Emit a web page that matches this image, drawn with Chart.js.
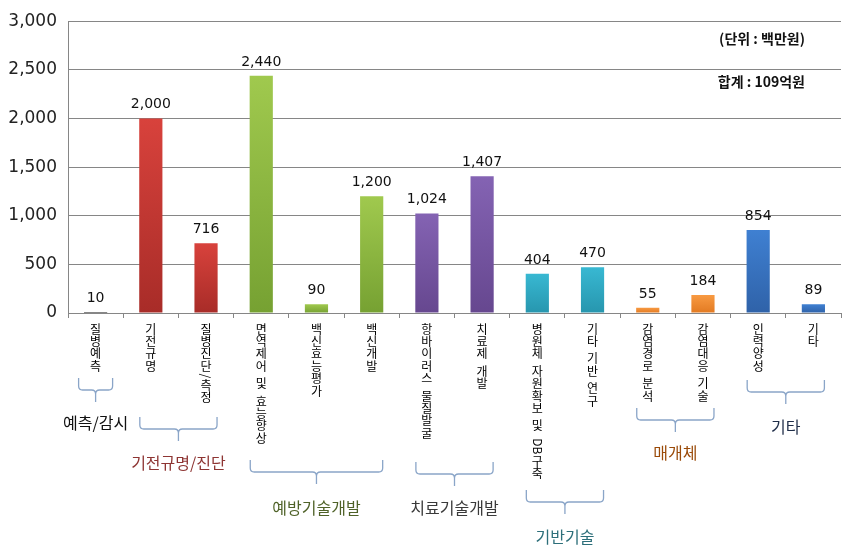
<!DOCTYPE html>
<html>
<head>
<meta charset="utf-8">
<script src="https://cdn.jsdelivr.net/npm/chart.js@4.4.1/dist/chart.umd.min.js"></script>
<style>
  html, body { margin: 0; padding: 0; background: #fff; }
  #wrap { width: 856px; height: 553px; position: relative; }
</style>
</head>
<body>
<div id="wrap"><canvas id="budgetChart"></canvas></div>
<script>
const categories = [
  "질병예측", "기전규명", "질병진단/측정", "면역제어 및 효능향상", "백신효능평가",
  "백신개발", "항바이러스 물질발굴", "치료제 개발", "병원체 자원확보 및 DB구축",
  "기타 기반 연구", "감염경로 분석", "감염대응 기술", "인력양성", "기타"
];
const values = [10, 2000, 716, 2440, 90, 1200, 1024, 1407, 404, 470, 55, 184, 854, 89];

const groupNames = ["예측/감시", "기전규명/진단", "예방기술개발", "치료기술개발", "기반기술", "매개체", "기타"];
const groupFirst = [0, 1, 3, 6, 8, 10, 12];
const groupLast = [0, 2, 5, 7, 9, 11, 13];

const yMax = 3000;
const yStep = 500;
const notes = ["(단위 : 백만원)", "합계 : 109억원"];

// styles per group
const barTop = ["#2a2a2a", "#d8423c", "#a0c94e", "#8463b3", "#38b8d2", "#f89a42", "#3f80d2"];
const barBottom = ["#111111", "#a82c28", "#76a132", "#66478f", "#2796ae", "#e27a22", "#2f62a8"];
const groupColors = ["#111111", "#8e3533", "#4f6228", "#3a3a3a", "#2d6f7a", "#9a4a08", "#1f2d48"];
const bracketTop = [378, 417, 460, 462, 490, 408, 380];
const labelY = [423, 463, 508, 508, 537, 453, 427];

function groupOf(i) {
  for (let g = 0; g < groupFirst.length; g++) {
    if (i >= groupFirst[g] && i <= groupLast[g]) return g;
  }
  return 0;
}

function barColor(context) {
  const chart = context.chart;
  const g = groupOf(context.dataIndex);
  const y = chart.scales.y;
  if (!chart.chartArea || !y) return barTop[g];
  const top = y.getPixelForValue(values[context.dataIndex]);
  const bottom = y.getPixelForValue(0);
  if (!isFinite(top) || bottom - top < 1) return barBottom[g];
  const grad = chart.ctx.createLinearGradient(0, top, 0, bottom);
  grad.addColorStop(0, barTop[g]);
  grad.addColorStop(1, barBottom[g]);
  return grad;
}

function drawBracket(ctx, x1, x2, top) {
  const mid = top + 12;
  const bottom = mid + 12;
  const cx = (x1 + x2) / 2;
  const r = 4;
  ctx.beginPath();
  ctx.moveTo(x1, top);
  ctx.lineTo(x1, mid - r);
  ctx.quadraticCurveTo(x1, mid, x1 + r, mid);
  ctx.lineTo(cx - r, mid);
  ctx.quadraticCurveTo(cx, mid, cx, mid + r);
  ctx.lineTo(cx, bottom);
  ctx.moveTo(x2, top);
  ctx.lineTo(x2, mid - r);
  ctx.quadraticCurveTo(x2, mid, x2 - r, mid);
  ctx.lineTo(cx + r, mid);
  ctx.quadraticCurveTo(cx, mid, cx, mid + r);
  ctx.stroke();
}

const annotate = {
  id: "annotate",
  afterDatasetsDraw(chart) {
    const ctx = chart.ctx;
    const meta = chart.getDatasetMeta(0);
    ctx.save();
    ctx.font = '14px "DejaVu Sans", sans-serif';
    ctx.fillStyle = "#111";
    ctx.textAlign = "center";
    ctx.textBaseline = "alphabetic";
    meta.data.forEach((bar, i) => {
      ctx.fillText(values[i].toLocaleString("en-US"), bar.x, bar.y - 10);
    });
    ctx.restore();
  },
  afterDraw(chart) {
    const ctx = chart.ctx;
    const x = chart.scales.x;
    const bottomY = chart.chartArea.bottom;

    // vertical category labels, one character under another
    ctx.save();
    ctx.fillStyle = "#000";
    ctx.font = '12px "Noto Sans CJK KR", sans-serif';
    ctx.textAlign = "center";
    ctx.textBaseline = "middle";
    categories.forEach((label, i) => {
      const cx = x.getPixelForValue(i);
      let y = bottomY + 10;
      const runs = label.match(/[A-Za-z\/]+|./g);
      runs.forEach(run => {
        if (run === " ") { y += 5; return; }
        if (/^[A-Za-z\/]+$/.test(run)) {
          const w = ctx.measureText(run).width;
          ctx.save();
          ctx.translate(cx, y + w / 2 + 1);
          ctx.rotate(Math.PI / 2);
          ctx.fillText(run, 0, 0);
          ctx.restore();
          y += w + 2;
          return;
        }
        ctx.fillText(run, cx, y + 6);
        y += 12.4;
      });
    });
    ctx.restore();

    // group brackets and names
    ctx.save();
    ctx.strokeStyle = "#8aa5c8";
    ctx.lineWidth = 1.3;
    ctx.textAlign = "center";
    ctx.textBaseline = "middle";
    ctx.font = '16px "Noto Sans CJK KR", sans-serif';
    groupNames.forEach((name, g) => {
      const pad = groupFirst[g] === groupLast[g] ? 17 : 11;
      const x1 = x.getPixelForValue(groupFirst[g]) - pad;
      const x2 = x.getPixelForValue(groupLast[g]) + pad;
      drawBracket(ctx, x1, x2, bracketTop[g]);
      ctx.fillStyle = groupColors[g];
      ctx.fillText(name, (x1 + x2) / 2, labelY[g]);
    });
    ctx.restore();

    // unit / total notes
    ctx.save();
    ctx.fillStyle = "#111";
    ctx.font = 'bold 14px "Noto Sans CJK KR", sans-serif';
    ctx.textAlign = "right";
    ctx.textBaseline = "middle";
    ctx.fillText(notes[0], 805, 39);
    ctx.fillText(notes[1], 805, 82);
    ctx.restore();
  }
};

document.addEventListener("DOMContentLoaded", function () {
  const ctx = document.getElementById("budgetChart").getContext("2d");
  new Chart(ctx, {
    type: "bar",
    data: {
      labels: categories,
      datasets: [{
        data: values,
        backgroundColor: barColor,
        barPercentage: 0.42,
        categoryPercentage: 1.0
      }]
    },
    options: {
      responsive: true,
      maintainAspectRatio: false,
      animation: false,
      layout: { padding: { top: 18, right: 15, left: 0, bottom: 0 } },
      plugins: {
        legend: { display: false },
        tooltip: { enabled: false }
      },
      scales: {
        x: {
          grid: {
            display: true,
            drawOnChartArea: false,
            drawTicks: true,
            tickLength: 5,
            color: "#868686",
            offset: true
          },
          border: { color: "#868686" },
          ticks: { display: false },
          afterFit: function (scale) { scale.height = 240; }
        },
        y: {
          min: 0,
          max: yMax,
          grid: { color: "#868686", drawTicks: false },
          border: { color: "#868686" },
          ticks: {
            stepSize: yStep,
            padding: 11,
            color: "#222",
            font: { family: '"DejaVu Sans", sans-serif', size: 17 },
            callback: v => v.toLocaleString("en-US")
          },
          afterFit: function (scale) { scale.width = 68; }
        }
      }
    },
    plugins: [annotate]
  });
});
</script>
</body>
</html>
